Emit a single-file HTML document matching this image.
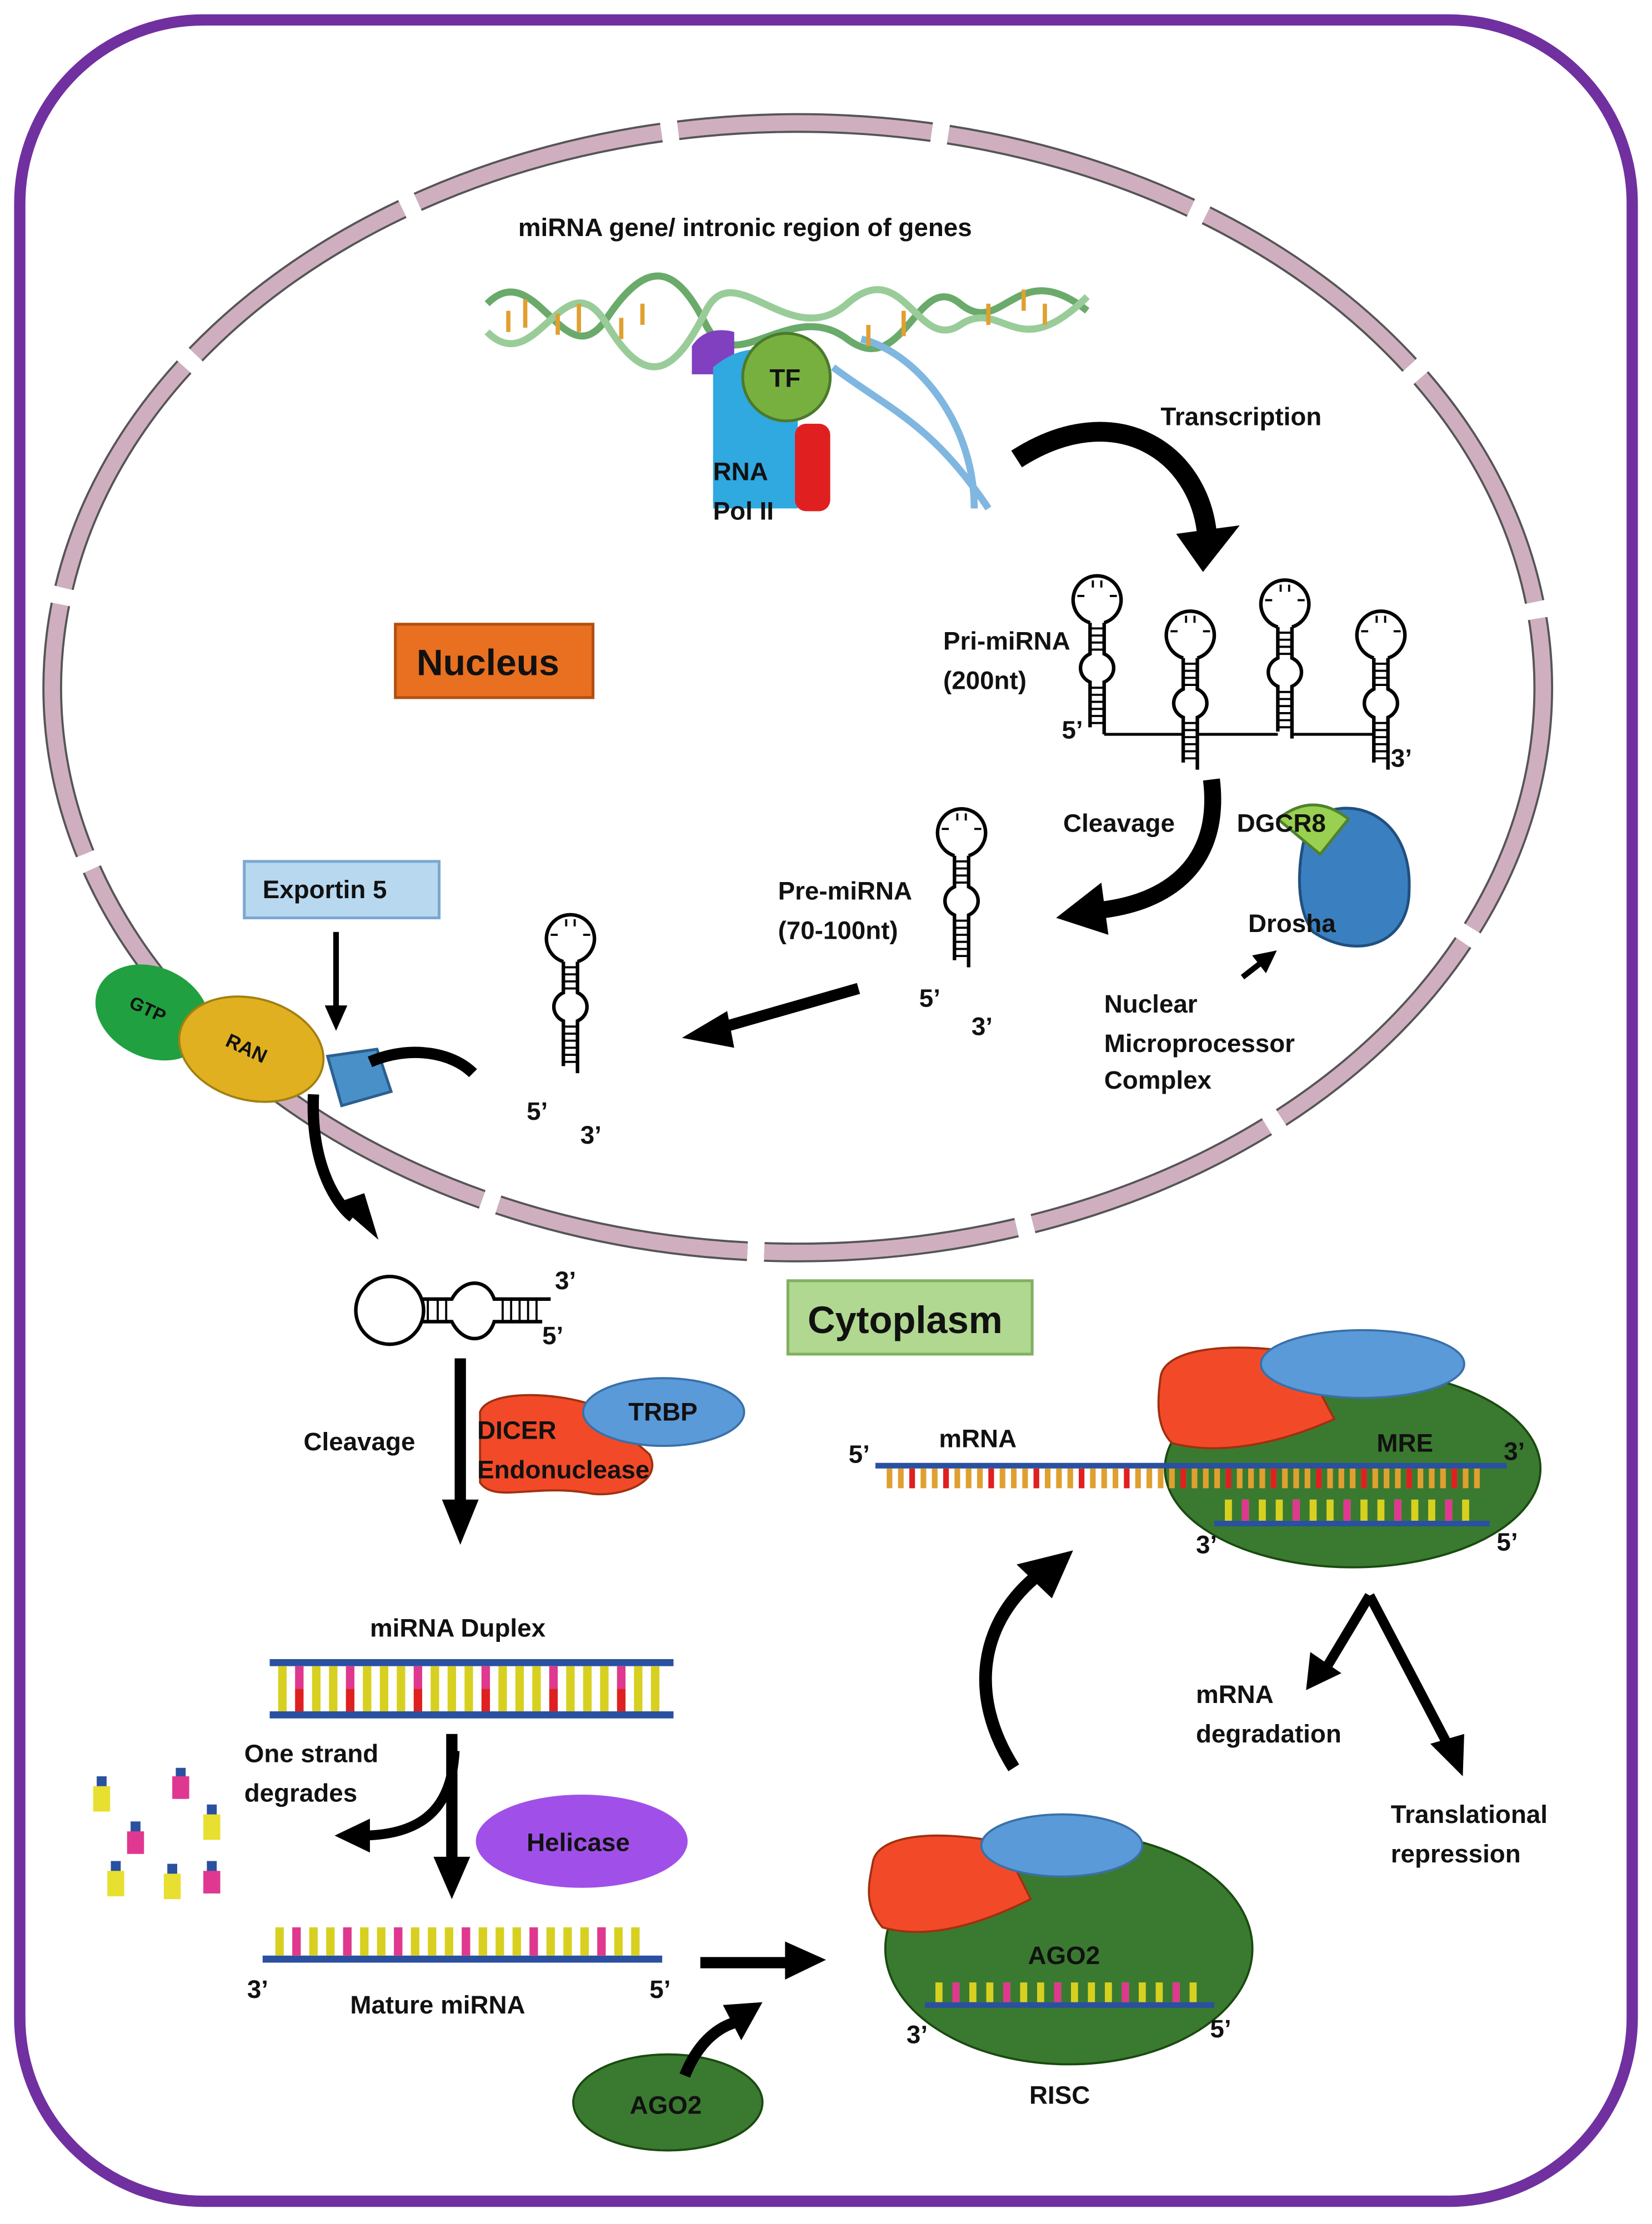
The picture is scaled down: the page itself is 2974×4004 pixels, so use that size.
<!DOCTYPE html>
<html><head><meta charset="utf-8"><style>
html,body{margin:0;padding:0;background:#fff}
svg{display:block}
text{font-family:"Liberation Sans",sans-serif;font-weight:bold;fill:#111}
</style></head><body>
<svg width="2974" height="4004" viewBox="0 0 1170 1575" xmlns="http://www.w3.org/2000/svg">
<defs>
<g id="hp">
<path d="M-5,16 A17,17 0 1 1 5,16" fill="none" stroke="#000" stroke-width="2.5"/>
<path d="M-5,16 V38 C-14,42 -14,54 -5,58 V90" fill="none" stroke="#000" stroke-width="2.5"/>
<path d="M5,16 V38 C14,42 14,54 5,58 V95" fill="none" stroke="#000" stroke-width="2.5"/>
<path d="M-5,20h10M-5,25h10M-5,30h10M-5,35h10M-5,62h10M-5,67h10M-5,72h10M-5,77h10M-5,82h10M-5,87h10" stroke="#000" stroke-width="1.5"/>
<path d="M-3,-14v5M3,-14v5M-14,-3h5M9,-3h5" stroke="#000" stroke-width="1.5"/>
</g>
<marker id="ah" markerWidth="4" markerHeight="4" refX="2" refY="2" orient="auto" markerUnits="strokeWidth"><path d="M0,0 L4,2 L0,4z" fill="#000"/></marker>
</defs>
<rect x="14" y="14" width="1142" height="1545" rx="130" fill="#fff" stroke="#7030a0" stroke-width="8"/>
<!-- nucleus -->
<ellipse cx="565" cy="487" rx="528" ry="400" fill="none" stroke="#555" stroke-width="14" stroke-dasharray="180 12"/>
<ellipse cx="565" cy="487" rx="528" ry="400" fill="none" stroke="#cfafbf" stroke-width="11" stroke-dasharray="180 12"/>
<!-- DNA -->
<g fill="none" stroke-width="5">
<path d="M345,215 C380,180 400,270 430,225 S480,190 500,230 S560,210 600,240 S650,190 680,215 S720,180 770,220" stroke="#6aaa6a"/>
<path d="M345,235 C380,270 400,180 430,230 S480,260 500,220 S560,250 600,215 S650,250 680,230 S720,260 770,210" stroke="#99cc99"/>
<path d="M590,260 C630,290 660,300 700,360 M610,240 C650,250 690,300 690,360" stroke="#7fb7e0"/>
</g>
<path d="M360,220v15M372,212v20M395,222v15M410,215v20M440,225v15M455,215v15M615,230v15M640,220v18M700,215v15M725,205v15M740,215v15" stroke="#e0a030" stroke-width="3"/>
<path d="M490,245 q10,-15 30,-10 v30 h-30z" fill="#8040c0"/>
<path d="M505,260 q30,-25 60,0 v100 h-60z" fill="#30a8e0"/>
<rect x="563" y="300" width="25" height="62" rx="8" fill="#e02020"/>
<circle cx="557" cy="267" r="31" fill="#78b040" stroke="#4a7a2a" stroke-width="2"/>
<text x="545" y="274" font-size="18">TF</text>
<text x="505" y="340" font-size="18">RNA</text>
<text x="505" y="368" font-size="18">Pol II</text>
<text x="367" y="167" font-size="18">miRNA gene/ intronic region of genes</text>
<text x="822" y="301" font-size="18">Transcription</text>
<path d="M720,325 C790,280 850,320 855,380" fill="none" stroke="#000" stroke-width="14"/>
<path d="M833,378 L878,372 L852,405z" fill="#000"/>
<!-- Nucleus label -->
<rect x="280" y="442" width="140" height="52" fill="#e87020" stroke="#b05010" stroke-width="2"/>
<text x="295" y="478" font-size="26">Nucleus</text>
<!-- pri-miRNA -->
<use href="#hp" x="777" y="425"/><use href="#hp" x="843" y="450"/><use href="#hp" x="910" y="428"/><use href="#hp" x="978" y="450"/>
<path d="M782,520 H838 M848,545 V520 H905 M915,520 H973" fill="none" stroke="#000" stroke-width="2"/>
<text x="668" y="460" font-size="18">Pri-miRNA</text><text x="668" y="488" font-size="18">(200nt)</text>
<text x="752" y="523" font-size="18">5’</text><text x="985" y="543" font-size="18">3’</text>
<text x="753" y="589" font-size="18">Cleavage</text>
<path d="M858,552 C865,610 830,640 775,645" fill="none" stroke="#000" stroke-width="12"/>
<path d="M780,625 L748,650 L785,662z" fill="#000"/>
<path d="M928,580 C960,560 1000,580 998,630 C998,670 960,680 930,660 C915,640 920,600 928,580z" fill="#3a80c0" stroke="#205080" stroke-width="2"/>
<path d="M905,580 q25,-20 50,0 l-20,25z" fill="#9ad050" stroke="#508030" stroke-width="2"/>
<text x="876" y="589" font-size="18">DGCR8</text>
<text x="884" y="660" font-size="18">Drosha</text>
<path d="M880,692 L898,678" stroke="#000" stroke-width="4" marker-end="url(#ah)"/>
<text x="782" y="717" font-size="18">Nuclear</text><text x="782" y="745" font-size="18">Microprocessor</text><text x="782" y="771" font-size="18">Complex</text>
<!-- pre-miRNA -->
<use href="#hp" x="681" y="590"/>
<text x="551" y="637" font-size="18">Pre-miRNA</text><text x="551" y="665" font-size="18">(70-100nt)</text>
<text x="651" y="713" font-size="18">5’</text><text x="688" y="733" font-size="18">3’</text>
<path d="M608,700 L510,728" stroke="#000" stroke-width="8"/>
<path d="M515,716 L483,735 L520,742z" fill="#000"/>
<use href="#hp" x="404" y="665"/>
<text x="373" y="793" font-size="18">5’</text><text x="411" y="810" font-size="18">3’</text>
<!-- exportin -->
<rect x="173" y="610" width="138" height="40" fill="#b8d8f0" stroke="#7aa8d0" stroke-width="2"/>
<text x="186" y="636" font-size="18">Exportin 5</text>
<path d="M238,660 V715" stroke="#000" stroke-width="4"/><path d="M230,712 L238,730 L246,712z" fill="#000"/>
<ellipse cx="108" cy="717" rx="42" ry="32" fill="#20a040" transform="rotate(25 108 717)"/>
<ellipse cx="178" cy="743" rx="52" ry="36" fill="#e0b020" stroke="#a08010" stroke-width="1.5" transform="rotate(15 178 743)"/>
<text x="92" y="717" font-size="13" transform="rotate(25 100 712)">GTP</text>
<text x="160" y="745" font-size="14" transform="rotate(25 170 740)">RAN</text>
<path d="M232,748 l35,-5 l10,30 l-35,10z" fill="#4a90c8" stroke="#2a6090" stroke-width="2"/>
<path d="M262,752 C290,740 320,745 335,760" fill="none" stroke="#000" stroke-width="8"/>
<path d="M222,775 C220,820 235,850 250,862" fill="none" stroke="#000" stroke-width="8"/>
<path d="M238,852 L268,878 L258,845z" fill="#000"/>
<!-- horizontal pre-miRNA in cytoplasm -->
<circle cx="276" cy="928" r="24" fill="none" stroke="#000" stroke-width="2.5"/>
<path d="M298,920 H320 C328,905 345,905 350,920 H390 M298,936 H320 C328,952 345,952 350,936 H384" fill="none" stroke="#000" stroke-width="2.5"/>
<path d="M303,920v16M310,920v16M316,920v16M356,920v16M362,920v16M368,920v16M374,920v16M380,920v16" stroke="#000" stroke-width="1.5"/>
<text x="393" y="913" font-size="18">3’</text><text x="384" y="952" font-size="18">5’</text>
<rect x="558" y="907" width="173" height="52" fill="#b0d890" stroke="#80b060" stroke-width="2"/>
<text x="572" y="944" font-size="27">Cytoplasm</text>
<!-- dicer -->
<path d="M326,962 V1065" stroke="#000" stroke-width="8"/><path d="M313,1062 L326,1094 L339,1062z" fill="#000"/>
<text x="215" y="1027" font-size="18">Cleavage</text>
<path d="M340,1000 C345,985 390,985 420,995 L460,1030 C470,1050 440,1060 420,1058 C380,1050 350,1065 340,1050z" fill="#f24a28" stroke="#a03010" stroke-width="1.5"/>
<ellipse cx="470" cy="1000" rx="57" ry="24" fill="#5a9ad8" stroke="#3a70a8" stroke-width="1.5"/>
<text x="445" y="1006" font-size="18">TRBP</text>
<text x="338" y="1019" font-size="18">DICER</text><text x="338" y="1047" font-size="18">Endonuclease</text>
<!-- duplex -->
<text x="262" y="1159" font-size="18">miRNA Duplex</text>
<rect x="191" y="1175" width="286" height="5" fill="#2a50a0"/><rect x="191" y="1212" width="286" height="5" fill="#2a50a0"/>
<path d="M200,1180 V1212M212,1180 V1212M224,1180 V1212M236,1180 V1212M248,1180 V1212M260,1180 V1212M272,1180 V1212M284,1180 V1212M296,1180 V1212M308,1180 V1212M320,1180 V1212M332,1180 V1212M344,1180 V1212M356,1180 V1212M368,1180 V1212M380,1180 V1212M392,1180 V1212M404,1180 V1212M416,1180 V1212M428,1180 V1212M440,1180 V1212M452,1180 V1212M464,1180 V1212" stroke="#d8d020" stroke-width="6"/>
<path d="M212,1196 V1212M248,1196 V1212M296,1196 V1212M344,1196 V1212M392,1196 V1212M440,1196 V1212" stroke="#e02020" stroke-width="6"/>
<path d="M212,1180 V1196M248,1180 V1196M296,1180 V1196M344,1180 V1196M392,1180 V1196M440,1180 V1196" stroke="#e03890" stroke-width="6"/>
<text x="173" y="1248" font-size="18">One strand</text><text x="173" y="1276" font-size="18">degrades</text>
<path d="M320,1228 V1320" stroke="#000" stroke-width="8"/><path d="M307,1315 L320,1345 L333,1315z" fill="#000"/>
<path d="M322,1240 C320,1280 300,1300 255,1300" fill="none" stroke="#000" stroke-width="7"/>
<path d="M262,1288 L237,1300 L262,1312z" fill="#000"/>
<g stroke-width="7">
<path d="M72,1258 v22M128,1252 v22M150,1278 v22M96,1290 v22M122,1320 v22M150,1318 v22M82,1318 v22" stroke="#2a50a0"/>
</g>
<g fill="#e8e030"><rect x="66" y="1265" width="12" height="18"/><rect x="144" y="1285" width="12" height="18"/><rect x="116" y="1327" width="12" height="18"/><rect x="76" y="1325" width="12" height="18"/></g>
<g fill="#e03890"><rect x="122" y="1258" width="12" height="16"/><rect x="90" y="1297" width="12" height="16"/><rect x="144" y="1325" width="12" height="16"/></g>
<ellipse cx="412" cy="1304" rx="75" ry="33" fill="#a050e8"/>
<text x="373" y="1311" font-size="18">Helicase</text>
<!-- mature -->
<rect x="186" y="1385" width="283" height="5" fill="#2a50a0"/>
<path d="M198,1365 V1385M210,1365 V1385M222,1365 V1385M234,1365 V1385M246,1365 V1385M258,1365 V1385M270,1365 V1385M282,1365 V1385M294,1365 V1385M306,1365 V1385M318,1365 V1385M330,1365 V1385M342,1365 V1385M354,1365 V1385M366,1365 V1385M378,1365 V1385M390,1365 V1385M402,1365 V1385M414,1365 V1385M426,1365 V1385M438,1365 V1385M450,1365 V1385" stroke="#d8d020" stroke-width="6"/>
<path d="M210,1365 V1385M246,1365 V1385M282,1365 V1385M330,1365 V1385M378,1365 V1385M426,1365 V1385" stroke="#e03890" stroke-width="6"/>
<text x="175" y="1415" font-size="18">3’</text><text x="460" y="1415" font-size="18">5’</text>
<text x="248" y="1426" font-size="18">Mature miRNA</text>
<path d="M496,1390 H560" stroke="#000" stroke-width="8"/><path d="M556,1375 L585,1388 L556,1402z" fill="#000"/>
<ellipse cx="473" cy="1489" rx="67" ry="34" fill="#3a7a30" stroke="#1a4a10" stroke-width="1.5"/>
<text x="446" y="1497" font-size="18">AGO2</text>
<path d="M485,1470 C495,1445 510,1435 522,1432" fill="none" stroke="#000" stroke-width="8"/><path d="M512,1420 L540,1418 L525,1445z" fill="#000"/>
<!-- RISC -->
<ellipse cx="757" cy="1380" rx="130" ry="82" fill="#3a7a30" stroke="#1a4a10" stroke-width="1.5"/>
<path d="M618,1320 C620,1300 660,1295 710,1305 L730,1345 C700,1360 660,1375 625,1365 C612,1350 615,1335 618,1320z" fill="#f24a28" stroke="#a03010" stroke-width="1.5"/>
<ellipse cx="752" cy="1307" rx="57" ry="22" fill="#5a9ad8" stroke="#3a70a8" stroke-width="1.5"/>
<text x="728" y="1391" font-size="18">AGO2</text>
<rect x="655" y="1418" width="205" height="4" fill="#2a50a0"/>
<path d="M665,1404 V1418M677,1404 V1418M689,1404 V1418M701,1404 V1418M713,1404 V1418M725,1404 V1418M737,1404 V1418M749,1404 V1418M761,1404 V1418M773,1404 V1418M785,1404 V1418M797,1404 V1418M809,1404 V1418M821,1404 V1418M833,1404 V1418M845,1404 V1418" stroke="#d8d020" stroke-width="5"/>
<path d="M677,1404 V1418M713,1404 V1418M749,1404 V1418M797,1404 V1418M833,1404 V1418" stroke="#e03890" stroke-width="5"/>
<text x="642" y="1447" font-size="18">3’</text><text x="857" y="1443" font-size="18">5’</text>
<text x="729" y="1490" font-size="18">RISC</text>
<path d="M718,1252 C685,1200 695,1150 732,1118" fill="none" stroke="#000" stroke-width="9"/>
<path d="M720,1108 L760,1098 L745,1132z" fill="#000"/>
<!-- mRNA complex -->
<ellipse cx="958" cy="1040" rx="133" ry="70" fill="#3a7a30" stroke="#1a4a10" stroke-width="1.5"/>
<path d="M822,975 C825,955 870,950 920,958 L945,1005 C900,1025 860,1030 830,1022 C818,1010 820,990 822,975z" fill="#f24a28" stroke="#a03010" stroke-width="1.5"/>
<ellipse cx="965" cy="966" rx="72" ry="24" fill="#5a9ad8" stroke="#3a70a8" stroke-width="1.5"/>
<text x="975" y="1028" font-size="18">MRE</text>
<text x="665" y="1025" font-size="18">mRNA</text>
<text x="601" y="1036" font-size="18">5’</text><text x="1065" y="1034" font-size="18">3’</text>
<rect x="620" y="1036" width="447" height="4" fill="#2a50a0"/>
<path d="M630,1040v14M638,1040v14M646,1040v14M654,1040v14M662,1040v14M670,1040v14M678,1040v14M686,1040v14M694,1040v14M702,1040v14M710,1040v14M718,1040v14M726,1040v14M734,1040v14M742,1040v14M750,1040v14M758,1040v14M766,1040v14M774,1040v14M782,1040v14M790,1040v14M798,1040v14M806,1040v14M814,1040v14M822,1040v14M830,1040v14M838,1040v14M846,1040v14M854,1040v14M862,1040v14M870,1040v14M878,1040v14M886,1040v14M894,1040v14M902,1040v14M910,1040v14M918,1040v14M926,1040v14M934,1040v14M942,1040v14M950,1040v14M958,1040v14M966,1040v14M974,1040v14M982,1040v14M990,1040v14M998,1040v14M1006,1040v14M1014,1040v14M1022,1040v14M1030,1040v14M1038,1040v14M1046,1040v14" stroke="#e0a030" stroke-width="4"/>
<path d="M646,1040v14M670,1040v14M702,1040v14M734,1040v14M766,1040v14M798,1040v14M838,1040v14M870,1040v14M902,1040v14M934,1040v14M966,1040v14M998,1040v14M1030,1040v14" stroke="#e02020" stroke-width="4"/>
<rect x="860" y="1077" width="195" height="4" fill="#2a50a0"/>
<path d="M870,1062v15M882,1062v15M894,1062v15M906,1062v15M918,1062v15M930,1062v15M942,1062v15M954,1062v15M966,1062v15M978,1062v15M990,1062v15M1002,1062v15M1014,1062v15M1026,1062v15M1038,1062v15" stroke="#d8d020" stroke-width="5"/>
<path d="M882,1062v15M918,1062v15M954,1062v15M990,1062v15M1026,1062v15" stroke="#e03890" stroke-width="5"/>
<text x="847" y="1100" font-size="18">3’</text><text x="1060" y="1098" font-size="18">5’</text>
<path d="M970,1130 L940,1180 M970,1130 L1025,1235" fill="none" stroke="#000" stroke-width="7"/>
<path d="M928,1170 L925,1197 L950,1185z" fill="#000"/><path d="M1013,1235 L1036,1258 L1037,1228z" fill="#000"/>
<text x="847" y="1206" font-size="18">mRNA</text><text x="847" y="1234" font-size="18">degradation</text>
<text x="985" y="1291" font-size="18">Translational</text><text x="985" y="1319" font-size="18">repression</text>
</svg>
</body></html>
